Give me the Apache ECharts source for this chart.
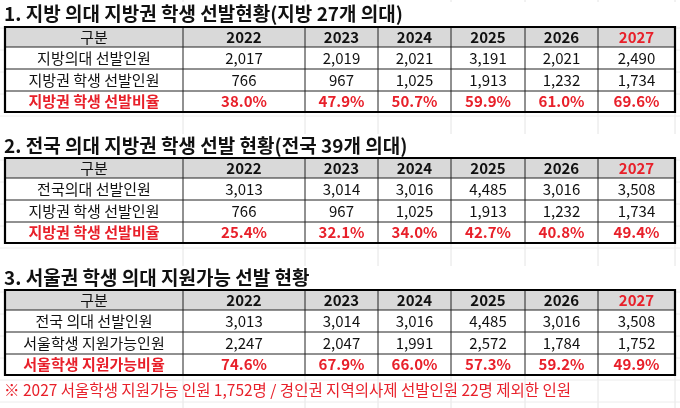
<!DOCTYPE html>
<html><head><meta charset="utf-8">
<script src="https://cdn.jsdelivr.net/npm/echarts@6/dist/echarts.min.js"></script>
<style>html,body{margin:0;padding:0;background:#fff}#c{width:680px;height:408px}</style>
</head><body><div id="c"></div>
<script>
const years = ['2022','2023','2024','2025','2026','2027'];
const titles = ['1. 지방 의대 지방권 학생 선발현황(지방 27개 의대)','2. 전국 의대 지방권 학생 선발 현황(전국 39개 의대)','3. 서울권 학생 의대 지원가능 선발 현황'];
const headLabel = '구분';
const t1Labels = ['지방의대 선발인원','지방권 학생 선발인원','지방권 학생 선발비율'];
const t1Row1 = ['2,017','2,019','2,021','3,191','2,021','2,490'];
const t1Row2 = ['766','967','1,025','1,913','1,232','1,734'];
const t1Row3 = ['38.0%','47.9%','50.7%','59.9%','61.0%','69.6%'];
const t2Labels = ['전국의대 선발인원','지방권 학생 선발인원','지방권 학생 선발비율'];
const t2Row1 = ['3,013','3,014','3,016','4,485','3,016','3,508'];
const t2Row2 = ['766','967','1,025','1,913','1,232','1,734'];
const t2Row3 = ['25.4%','32.1%','34.0%','42.7%','40.8%','49.4%'];
const t3Labels = ['전국 의대 선발인원','서울학생 지원가능인원','서울학생 지원가능비율'];
const t3Row1 = ['3,013','3,014','3,016','4,485','3,016','3,508'];
const t3Row2 = ['2,247','2,047','1,991','2,572','1,784','1,752'];
const t3Row3 = ['74.6%','67.9%','66.0%','57.3%','59.2%','49.9%'];
const footnote = '※ 2027 서울학생 지원가능 인원 1,752명 / 경인권 지역의사제 선발인원 22명 제외한 인원';

const tables = [
  {labels:t1Labels, rows:[t1Row1,t1Row2,t1Row3]},
  {labels:t2Labels, rows:[t2Row1,t2Row2,t2Row3]},
  {labels:t3Labels, rows:[t3Row1,t3Row2,t3Row3]}
];

const colX = [5,183,305,378,451,525,598,675];
const tableTop = [27,158,290];
const titleY = [14,146,278];
const rowH = [20,22,22,21];
const RED = '#e8202a';
const FONT = '"Noto Sans CJK KR", "Noto Sans", sans-serif';
const els = [];
const gridX = [183,305,378,451,525,598,675];
for (const x of gridX) els.push({type:'line',shape:{x1:x,y1:0,x2:x,y2:408},style:{stroke:'#e4e4e4',lineWidth:1},z:0});
for (let y=6;y<408;y+=22) els.push({type:'line',shape:{x1:0,y1:y,x2:680,y2:y},style:{stroke:'#ececec',lineWidth:1},z:0});

tables.forEach((tb,ti)=>{
  els.push({type:'rect',shape:{x:0,y:titleY[ti]-12,width:680,height:24},style:{fill:'#fff'},z:1});
  els.push({type:'text',x:4,y:titleY[ti],style:{text:titles[ti],font:'bold 19px '+FONT,fill:'#111',textVerticalAlign:'middle'},z:5});
  let y = tableTop[ti];
  const yEdges=[y]; for(const h of rowH){y+=h;yEdges.push(y);}
  const top=yEdges[0], bot=yEdges[4];
  els.push({type:'rect',shape:{x:colX[0],y:top,width:colX[7]-colX[0],height:bot-top},style:{fill:'#fff'},z:1});
  els.push({type:'rect',shape:{x:colX[0],y:top,width:colX[7]-colX[0],height:rowH[0]},style:{fill:'#d9d9d9'},z:2});
  for (let i=1;i<4;i++) els.push({type:'line',shape:{x1:colX[0],y1:yEdges[i],x2:colX[7],y2:yEdges[i]},style:{stroke:'#222',lineWidth:1},z:3});
  for (let j=1;j<7;j++) els.push({type:'line',shape:{x1:colX[j],y1:top,x2:colX[j],y2:bot},style:{stroke:'#222',lineWidth:1},z:3});
  els.push({type:'rect',shape:{x:colX[0],y:top,width:colX[7]-colX[0],height:bot-top},style:{fill:null,stroke:'#000',lineWidth:2.2},z:4});
  const cx = j=>(colX[j]+colX[j+1])/2, cy=i=>(yEdges[i]+yEdges[i+1])/2;
  const txt=(x,y,t,font,fill)=>els.push({type:'text',x:x,y:y,style:{text:t,font:font,fill:fill,textAlign:'center',textVerticalAlign:'middle'},z:5});
  txt(cx(0),cy(0),headLabel,'15px '+FONT,'#111');
  years.forEach((yr,j)=>txt(cx(j+1),cy(0),yr,'bold 15px '+FONT,j===5?RED:'#111'));
  tb.labels.forEach((l,i)=>txt(cx(0),cy(i+1),l,(i===2?'bold ':'')+'15px '+FONT,i===2?RED:'#111'));
  tb.rows.forEach((r,i)=>r.forEach((v,j)=>txt(cx(j+1),cy(i+1),v,(i===2?'bold ':'')+'15px '+FONT,i===2?RED:'#111')));
});
els.push({type:'text',x:4,y:390,style:{text:footnote,font:'15.5px '+FONT,fill:RED,textVerticalAlign:'middle'},z:5});

const chart = echarts.init(document.getElementById('c'),null,{renderer:'canvas'});
chart.setOption({backgroundColor:'#fff',animation:false,graphic:{elements:els}});
</script></body></html>
